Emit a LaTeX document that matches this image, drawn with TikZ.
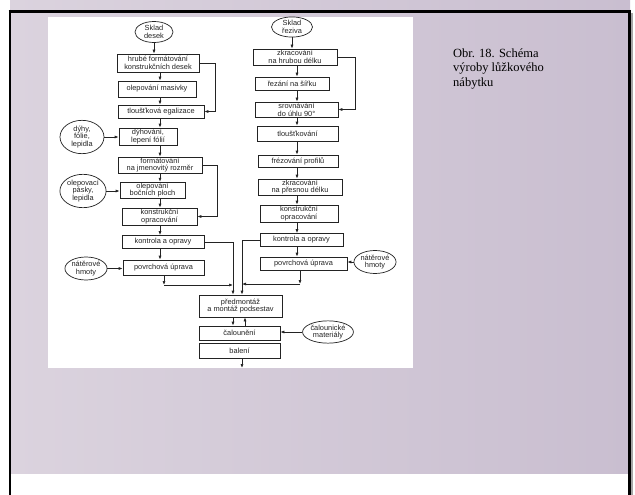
\documentclass[tikz,border=0pt]{standalone}
\usepackage{fontspec}
\setmainfont{Liberation Serif}
\newfontfamily\flowfont{Liberation Sans}
\usetikzlibrary{shapes.geometric}
\usetikzlibrary{arrows.meta}

\definecolor{slidelight}{RGB}{219,211,222}
\definecolor{slidedark}{RGB}{201,190,208}
\definecolor{scanink}{RGB}{35,35,35}

\begin{document}
\begin{tikzpicture}[x=1pt,y=-1pt,
	krok/.style={draw=scanink, line width=0.7pt, fill=white, inner sep=0.5pt, align=center, text=scanink, font=\flowfont\fontsize{7.4}{7.8}\selectfont},
	zdroj/.style={krok, ellipse},
	tok/.style={draw=scanink, line width=0.7pt, -{Latex[length=4pt,width=3pt]}}]
	
	\useasboundingbox (0,0) rectangle (635,495);
	
	% slide
	\fill[white] (0,0) rectangle (635,495);
	\shade[left color=slidelight, right color=slidedark] (10,0) rectangle (630,473);
	\fill[white] (48,17) rectangle (413,368);
	\draw[line width=3pt, black] (8.5,11.5) -- (630.5,11.5);
	\draw[line width=2.5pt, black] (10,10) -- (10,495);
	\draw[line width=2.5pt, black] (629.5,10) -- (629.5,495);
	\draw[line width=1.5pt, gray!70] (632,13) -- (632,495);
	
	\node[anchor=north west, inner sep=0pt, align=left, font=\fontsize{12.5}{14.5}\selectfont] (popis) at (453,48.5) {Obr. 18. Schéma\\výroby lůžkového\\nábytku};
	
	% sloupce
	\coordinate (colL) at (160,0);
	\coordinate (colR) at (297,0);
	\coordinate (bypL) at (215,0);
	\coordinate (bypLb) at (217,0);
	\coordinate (bypR) at (355,0);
	\coordinate (joinL) at (233,0);
	\coordinate (joinR) at (242,0);
	\coordinate (backC) at (245,0);
	\coordinate (mL) at (164,285);
	\coordinate (mR) at (300,284);
	\coordinate (outB) at (242,368);
	
	% desky
	\node[zdroj, minimum width=38pt, minimum height=21pt] (desky) at (154,32) {Sklad\\desek};
	\node[krok, minimum width=82pt, minimum height=18pt] (L1) at (158,63) {hrubé formátování\\konstrukčních desek};
	\node[krok, minimum width=78pt, minimum height=16pt] (L2) at (157,89) {olepování masivky};
	\node[krok, minimum width=86pt, minimum height=13pt] (L3) at (161,111.5) {tloušťková egalizace};
	\node[krok, minimum width=58pt, minimum height=17pt] (L4) at (148,136.5) {dýhování,\\lepení fólií};
	\node[krok, minimum width=84pt, minimum height=16pt] (L5) at (160,165) {formátování\\na jmenovitý rozměr};
	\node[krok, minimum width=65pt, minimum height=15pt] (L6) at (152.5,190) {olepování\\bočních ploch};
	\node[krok, minimum width=75pt, minimum height=17pt] (L7) at (159.5,216.5) {konstrukční\\opracování};
	\node[krok, minimum width=82pt, minimum height=13pt] (L8) at (163,242) {kontrola a opravy};
	\node[krok, minimum width=81pt, minimum height=15pt] (L9) at (163.5,267.5) {povrchová úprava};
	
	\node[zdroj, minimum width=44pt, minimum height=29pt] (dyhy) at (82,137) {dýhy,\\fólie,\\lepidla};
	\node[zdroj, minimum width=43pt, minimum height=29pt] (pasky) at (83,191) {olepovací\\pásky,\\lepidla};
	\node[zdroj, minimum width=42pt, minimum height=23pt] (natL) at (86,268.5) {nátěrové\\hmoty};
	
	% řezivo
	\node[zdroj, minimum width=41pt, minimum height=19pt] (rezivo) at (292,27) {Sklad\\řeziva};
	\node[krok, minimum width=84pt, minimum height=16pt] (R1) at (295,57) {zkracování\\na hrubou délku};
	\node[krok, minimum width=74pt, minimum height=13pt] (R2) at (292,83.5) {řezání na šířku};
	\node[krok, minimum width=83pt, minimum height=15pt] (R3) at (296.5,109.5) {srovnávání\\do úhlu 90°};
	\node[krok, minimum width=81pt, minimum height=15pt] (R4) at (297.5,133.5) {tloušťkování};
	\node[krok, minimum width=80pt, minimum height=12pt] (R5) at (298,161) {frézování profilů};
	\node[krok, minimum width=84pt, minimum height=16pt] (R6) at (300,187) {zkracování\\na přesnou délku};
	\node[krok, minimum width=78pt, minimum height=17pt] (R7) at (299,213.5) {konstrukční\\opracování};
	\node[krok, minimum width=83pt, minimum height=13pt] (R8) at (301.5,240) {kontrola a opravy};
	\node[krok, minimum width=87pt, minimum height=13pt] (R9) at (303.5,263.5) {povrchová úprava};
	
	\node[zdroj, minimum width=40pt, minimum height=23pt] (natR) at (375,262) {nátěrové\\hmoty};
	
	% montáž
	\node[krok, minimum width=83pt, minimum height=22pt] (P) at (240.5,306) {předmontáž\\a montáž podsestav};
	\node[krok, minimum width=81pt, minimum height=14pt] (C) at (239.5,333) {čalounění};
	\node[krok, minimum width=81pt, minimum height=15pt] (B) at (239.5,350.5) {balení};
	\node[zdroj, minimum width=44pt, minimum height=21pt] (calmat) at (328,332) {čalounické\\materiály};
	
	\draw[tok] (desky.south) -- (desky.south |- L1.north);
	\foreach \a/\b in {L1/L2,L2/L3,L3/L4,L4/L5,L5/L6,L6/L7,L7/L8,L8/L9}
		\draw[tok] (\a.south -| colL) -- (\b.north -| colL);
	\draw[tok] (rezivo.south) -- (rezivo.south |- R1.north);
	\foreach \a/\b in {R1/R2,R2/R3,R3/R4,R4/R5,R5/R6,R6/R7,R7/R8,R8/R9}
		\draw[tok] (\a.south -| colR) -- (\b.north -| colR);
	
	\draw[tok] (L1.east) -- (L1.east -| bypL) |- (L3.east);
	\draw[tok] (L5.east) -- (L5.east -| bypLb) |- (L7.east);
	\draw[tok] (R1.east) -- (R1.east -| bypR) |- (R3.east);
	
	\draw[tok] (dyhy.east) -- (L4.west |- dyhy.east);
	\draw[tok] (pasky.east) -- (L6.west |- pasky.east);
	\draw[tok] (natL.east) -- (L9.west |- natL.east);
	\draw[tok] (natR.west) -- (R9.east |- natR.west);
	\draw[tok] (calmat.west) -- (C.east |- calmat.west);
	
	\draw[tok] (L8.east) -| (joinL |- P.north);
	\draw[tok] (R8.west) -| (joinR |- P.north);
	\draw[tok] (L9.south -| mL) -- (mL);
	\draw[tok] (mL) -- (mL -| joinL);
	\draw[tok] (R9.south -| mR) -- (mR);
	\draw[tok] (mR) -- (mR -| joinR);
	
	\draw[tok] (P.south -| joinL) -- (C.north -| joinL);
	\draw[tok] (C.north -| backC) -- (P.south -| backC);
	\draw[tok] (B.south -| outB) -- (outB);
	
\end{tikzpicture}
\end{document}
